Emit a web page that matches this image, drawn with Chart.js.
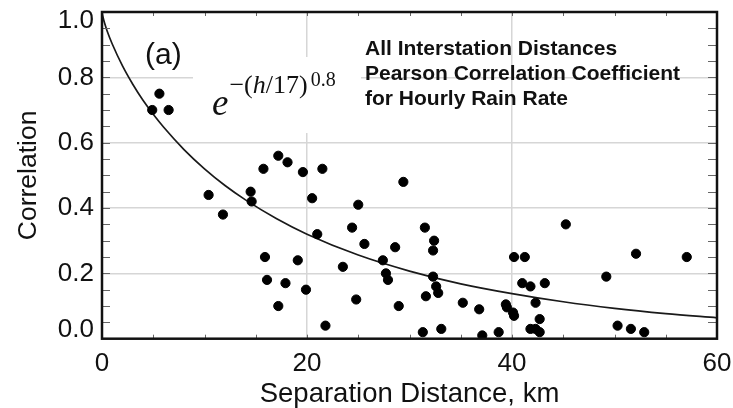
<!DOCTYPE html>
<html>
<head>
<meta charset="utf-8">
<script src="https://cdn.jsdelivr.net/npm/chart.js@4.4.1/dist/chart.umd.min.js"></script>
<style>
  html, body { margin: 0; padding: 0; background: #fff; overflow: hidden; }
  #wrap { width: 733px; height: 408px; }
</style>
</head>
<body>
<div id="wrap"><canvas id="corrChart" width="733" height="408"></canvas></div>
<script>
// station pairs: separation distance (km) and correlation of hourly rain rate
const distKm = [4.9, 5.6, 6.5, 10.4, 11.8, 14.5, 14.6, 15.75, 15.9, 16.1, 17.2, 17.2, 17.9, 18.1, 19.1, 19.6, 19.9,
    20.5, 21.0, 21.5, 21.8, 23.5, 24.4, 24.8, 25.0, 25.6, 27.4, 27.7, 27.9, 28.6, 28.95, 29.4, 31.3, 31.5, 31.6,
    32.3, 32.3, 32.4, 32.6, 32.8, 33.1, 35.2, 36.8, 37.1, 38.7, 39.4, 39.5, 40.1, 40.2, 40.2, 41.0, 41.25, 41.8,
    41.8, 42.3, 42.3, 42.7, 42.7, 43.2, 45.25, 49.2, 50.3, 51.6, 52.1, 52.9, 57.05];
const corr = [0.70, 0.75, 0.70, 0.44, 0.38, 0.45, 0.42, 0.52, 0.25, 0.18, 0.56, 0.10, 0.17, 0.54, 0.24, 0.51, 0.15,
    0.43, 0.32, 0.52, 0.04, 0.22, 0.34, 0.12, 0.41, 0.29, 0.24, 0.20, 0.18, 0.28, 0.10, 0.48, 0.02, 0.34, 0.13,
    0.27, 0.19, 0.30, 0.16, 0.14, 0.03, 0.11, 0.09, 0.01, 0.02, 0.105, 0.096, 0.08, 0.07, 0.25, 0.17, 0.25, 0.16,
    0.03, 0.11, 0.03, 0.06, 0.02, 0.17, 0.35, 0.19, 0.04, 0.03, 0.26, 0.02, 0.25];

// fitted curve e^-(h/17)^0.8
const curveH = [0, 0.05, 0.1, 0.25, 0.5, 1, 2, 3, 4, 5, 6, 8, 10, 12, 14, 17, 20, 25, 30, 35, 40, 45, 50, 55, 60];
const curveR = [1, 0.991, 0.984, 0.966, 0.942, 0.902, 0.835, 0.779, 0.730, 0.687, 0.648, 0.579, 0.520, 0.469, 0.425,
    0.368, 0.320, 0.256, 0.207, 0.168, 0.138, 0.113, 0.093, 0.077, 0.064];

const xTicks = [0, 20, 40, 60];
const yTicks = [0, 0.2, 0.4, 0.6, 0.8, 1.0];

const infoLines = ["All Interstation Distances", "Pearson Correlation Coefficient", "for Hourly Rain Rate"];

const sans = "'Liberation Sans', Arial, Helvetica, sans-serif";
const serif = "'Liberation Serif', 'Times New Roman', serif";

const annotations = {
    id: "annotations",
    beforeDatasetsDraw(chart) {
        const ctx = chart.ctx;
        // the formula sits on a white patch that hides the grid
        ctx.save();
        ctx.fillStyle = "#fff";
        ctx.fillRect(193, 57, 168, 76);
        ctx.restore();
    },
    afterDatasetsDraw(chart) {
        const {ctx, chartArea: a, scales: {x, y}} = chart;
        ctx.save();
        // minor ticks
        ctx.strokeStyle = "#666";
        ctx.lineWidth = 1;
        ctx.beginPath();
        for (let i = 1; i < 20; i++) {
            const py = Math.round(y.getPixelForValue(i * 0.05)) + 0.5;
            ctx.moveTo(a.left, py); ctx.lineTo(a.left + 8, py);
            ctx.moveTo(a.right - 9, py); ctx.lineTo(a.right, py);
        }
        for (let i = 1; i < 12; i++) {
            const px = Math.round(x.getPixelForValue(i * 5)) + 0.5;
            ctx.moveTo(px, a.bottom); ctx.lineTo(px, a.bottom - 4);
            ctx.moveTo(px, a.top); ctx.lineTo(px, a.top + 4);
        }
        ctx.stroke();
        // frame
        ctx.strokeStyle = "#111";
        ctx.lineWidth = 2.5;
        ctx.strokeRect(a.left, a.top, a.right - a.left, a.bottom - a.top);

        ctx.fillStyle = "#111";
        ctx.textBaseline = "alphabetic";
        ctx.textAlign = "left";
        ctx.font = "30px " + sans;
        ctx.fillText("(a)", 145, 63.5);

        // e^{-(h/17)^{0.8}}
        let cx = 212;
        ctx.font = "italic 37px " + serif;
        ctx.fillText("e", cx, 115);
        cx += ctx.measureText("e").width + 1;
        const parts = [["\u2212(", ""], ["h", "italic "], ["/17)", ""]];
        parts.forEach(([t, st]) => {
            ctx.font = st + "26px " + serif;
            ctx.fillText(t, cx, 93);
            cx += ctx.measureText(t).width;
        });
        ctx.font = "20px " + serif;
        ctx.fillText("0.8", cx + 3, 86);

        ctx.font = "bold 21px " + sans;
        infoLines.forEach((t, i) => ctx.fillText(t, 365, 54.5 + i * 25));
        ctx.restore();
    }
};

new Chart(document.getElementById("corrChart"), {
    type: "scatter",
    data: {
        datasets: [{
            label: "Correlation",
            data: distKm.map((d, i) => ({x: d, y: corr[i]})),
            backgroundColor: "#000",
            borderColor: "#000",
            pointRadius: 4.6,
            pointHoverRadius: 4.6
        }, {
            label: "Fit",
            type: "line",
            data: curveH.map((h, i) => ({x: h, y: curveR[i]})),
            borderColor: "#1a1a1a",
            borderWidth: 1.7,
            pointRadius: 0,
            fill: false,
            cubicInterpolationMode: "monotone"
        }]
    },
    options: {
        responsive: false,
        animation: false,
        events: [],
        layout: {padding: {top: 12, right: 16, bottom: 0, left: 0}},
        plugins: {legend: {display: false}, tooltip: {enabled: false}},
        scales: {
            x: {
                type: "linear",
                min: 0,
                max: 60,
                afterBuildTicks: s => { s.ticks = xTicks.map(v => ({value: v})); },
                afterFit: s => { s.height = 69.3; s.paddingLeft = 0; s.paddingRight = 0; },
                ticks: {
                    color: "#111",
                    padding: 10,
                    font: {family: sans, size: 26},
                    maxRotation: 0
                },
                grid: {
                    color: c => (c.tick && (c.tick.value === 0 || c.tick.value === 60)) ? "rgba(0,0,0,0)" : "#d6d6d6",
                    lineWidth: 1.5,
                    drawTicks: false
                },
                border: {display: false},
                title: {
                    display: true,
                    text: "Separation Distance, km",
                    color: "#111",
                    font: {family: sans, size: 27.5, lineHeight: 1},
                    padding: 0
                }
            },
            y: {
                min: 0,
                max: 1,
                afterBuildTicks: s => { s.ticks = yTicks.map(v => ({value: v})); },
                afterFit: s => { s.width = 102; s.paddingTop = 0; s.paddingBottom = 0; },
                ticks: {
                    color: "#111",
                    padding: 8,
                    font: {family: sans, size: 26, lineHeight: 0.7},
                    callback: v => {
                        const t = v.toFixed(1);
                        if (v >= 1) return ["", t];
                        if (v <= 0) return [t, ""];
                        return t;
                    }
                },
                grid: {
                    color: c => (c.tick && (c.tick.value === 0 || c.tick.value === 1)) ? "rgba(0,0,0,0)" : "#d6d6d6",
                    lineWidth: 1.5,
                    drawTicks: false
                },
                border: {display: false},
                title: {
                    display: true,
                    text: "Correlation",
                    color: "#111",
                    font: {family: sans, size: 26.5, lineHeight: 1},
                    padding: {top: 15, bottom: 0}
                }
            }
        }
    },
    plugins: [annotations]
});
</script>
</body>
</html>
